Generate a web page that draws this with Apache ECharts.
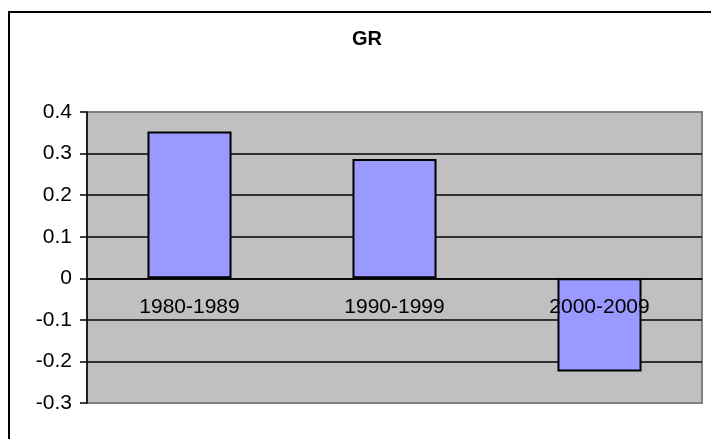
<!DOCTYPE html>
<html>
<head>
<meta charset="utf-8">
<style>
  html, body { margin: 0; padding: 0; background: #fff; overflow: hidden; }
  #chart { width: 711px; height: 439px; }
</style>
<script src="https://cdn.jsdelivr.net/npm/echarts@6/dist/echarts.min.js"></script>
</head>
<body>
<div id="chart"></div>
<script>
  // data
  const categories = ['1980-1989', '1990-1999', '2000-2009']
  const grValues = [0.353, 0.287, -0.224]
  const yMin = -0.3
  const yMax = 0.4
  const yStep = 0.1

  const font = "'Liberation Sans', Arial, sans-serif"
  const gridTop = 112
  const gridBottom = 36
  const plotHeight = 439 - gridTop - gridBottom
  // category axis sits on the zero line, like the Excel original
  const zeroOffset = -plotHeight * (0 - yMin) / (yMax - yMin)

  const chart = echarts.init(document.getElementById('chart'))

  chart.setOption({
    animation: false,
    title: {
      text: 'GR',
      left: 352,
      top: 29,
      padding: 0,
      textStyle: { fontFamily: font, fontSize: 20, fontWeight: 'bold', color: '#000' }
    },
    graphic: [
      {
        // outer chart frame (runs off the right / bottom edge)
        type: 'rect',
        silent: true,
        shape: { x: 9, y: 12, width: 760, height: 500 },
        style: { fill: 'none', stroke: '#000', lineWidth: 2 }
      }
    ],
    grid: {
      left: 87,
      right: 9,
      top: gridTop,
      bottom: gridBottom,
      show: true,
      backgroundColor: '#C0C0C0',
      borderColor: '#808080',
      borderWidth: 2
    },
    xAxis: {
      type: 'category',
      data: categories,
      z: 10,
      offset: zeroOffset,
      axisLine: { onZero: false, lineStyle: { color: '#000', width: 1.5 } },
      axisTick: { show: false },
      axisLabel: {
        fontFamily: font,
        fontSize: 21,
        color: '#000',
        margin: 18
      },
      splitLine: { show: false }
    },
    yAxis: {
      type: 'value',
      min: yMin,
      max: yMax,
      interval: yStep,
      axisLine: { show: true, lineStyle: { color: '#000', width: 1.5 } },
      axisTick: { show: true, inside: false, length: 7, lineStyle: { color: '#000', width: 1.5 } },
      axisLabel: {
        fontFamily: font,
        fontSize: 21,
        color: '#000',
        margin: 15,
        formatter: (v) => String(Math.round(v * 10) / 10)
      },
      splitLine: {
        show: true,
        lineStyle: {
          color: ['#808080', '#000', '#000', '#000', '#000', '#000', '#000', '#808080'],
          width: 1.5
        }
      }
    },
    series: [
      {
        name: 'GR',
        type: 'bar',
        data: grValues,
        barWidth: '41%',
        itemStyle: {
          color: '#9999FF',
          borderColor: '#000',
          borderWidth: 2
        }
      }
    ]
  })
</script>
</body>
</html>
